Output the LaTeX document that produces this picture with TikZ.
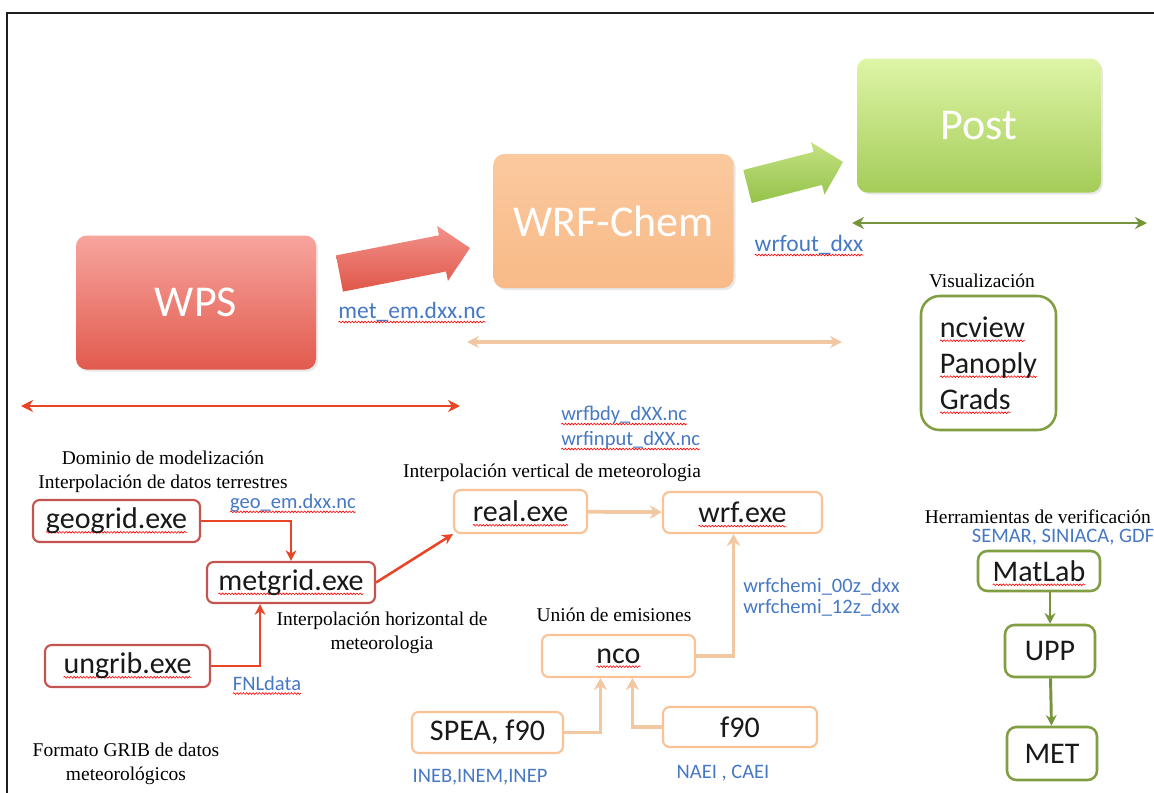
\documentclass[tikz,border=0pt]{standalone}
\usepackage{fontspec}
\setmainfont{Liberation Serif}
\newfontfamily\calibri{Carlito}
\usepackage{tikz}
\usetikzlibrary{arrows.meta,calc,shadows,decorations.pathmorphing}

\definecolor{framegray}{RGB}{30,30,30}
\definecolor{wpstop}{RGB}{247,165,157}
\definecolor{wpsbot}{RGB}{226,90,78}
\definecolor{chemtop}{RGB}{251,201,158}
\definecolor{chembot}{RGB}{248,186,136}
\definecolor{posttop}{RGB}{222,245,166}
\definecolor{postbot}{RGB}{164,204,88}
\definecolor{arrredtop}{RGB}{242,146,138}
\definecolor{arrredbot}{RGB}{224,86,74}
\definecolor{arrgrtop}{RGB}{196,226,130}
\definecolor{arrgrbot}{RGB}{148,194,74}
\definecolor{boxred}{RGB}{196,84,80}
\definecolor{boxor}{RGB}{249,195,150}
\definecolor{boxgr}{RGB}{128,158,66}
\definecolor{conred}{RGB}{234,67,38}
\definecolor{conor}{RGB}{242,200,162}
\definecolor{congr}{RGB}{118,148,58}
\definecolor{lblue}{RGB}{70,120,196}

% red wavy underline of the spell checker
\newsavebox\spellbox
\newlength\spellwd
\newcommand\spellchk[1]{\sbox\spellbox{#1}\setlength\spellwd{\wd\spellbox}%
  \leavevmode\rlap{\tikz[overlay,reset cm]\draw[spellline] (0pt,-2.6pt) -- (\spellwd,-2.6pt);}%
  \usebox\spellbox}

\tikzset{
  spellline/.style={draw=red, line width=0.45pt, sharp corners, solid, decorate,
    decoration={snake, amplitude=0.65pt, segment length=2.4pt}},
  bigbox/.style={rounded corners=8pt, minimum width=180pt, minimum height=100.5pt,
    text=white, font=\calibri\fontsize{33}{40}\selectfont,
    drop shadow={opacity=0.18, shadow xshift=1.5pt, shadow yshift=-1.5pt}},
  smallbox/.style={rounded corners=5pt, fill=white, line width=1.6pt, inner sep=0pt,
    text=black!90, font=\calibri\fontsize{22.5}{27}\selectfont},
  redbox/.style={smallbox, draw=boxred},
  orbox/.style={smallbox, draw=boxor},
  grbox/.style={smallbox, draw=boxgr, line width=1.9pt, rounded corners=7pt},
  bluelbl/.style={text=lblue, inner sep=0.75pt, font=\calibri\fontsize{15.4}{18.75}\selectfont},
  bluebig/.style={bluelbl, font=\calibri\fontsize{17.6}{20}\selectfont},
  serlbl/.style={inner sep=0.75pt, align=center, font=\fontsize{14.6}{18}\selectfont},
  redcon/.style={draw=conred, line width=1.9pt, -{Stealth[length=8pt,width=8pt]}},
  orcon/.style={draw=conor, line width=2.8pt, -{Stealth[length=9pt,width=10pt]}},
  grcon/.style={draw=congr, line width=2.2pt, -{Stealth[length=8pt,width=8pt]}},
  spanline/.style={line width=#1, {Stealth[length=9pt,width=9pt]}-{Stealth[length=9pt,width=9pt]}},
}

\begin{document}
\begin{tikzpicture}[x=0.75pt,y=0.75pt,yscale=-1,xscale=1]
\useasboundingbox (0,0) rectangle (1154,793);
% Frame
\draw [line width=1.5pt, color=framegray] (7,793) -- (7,13) -- (1154,13);

% Main stages
\node (wps) [bigbox, top color=wpstop, bottom color=wpsbot] at (196,302.5) {WPS};
\node (wrfchem) [bigbox, top color=chemtop, bottom color=chembot] at (613.5,221) {WRF-Chem};
\node (post) [bigbox, minimum width=183pt, top color=posttop, bottom color=postbot] at (979,125.5) {Post};

% Block arrows
\shade [top color=arrredtop, bottom color=arrredbot] (336,255.4) -- (439,235.3) -- (437.1,225.9) -- (470,248) -- (447.9,280.9) -- (446,271.5) -- (343,291.6) -- cycle;
\shade [top color=arrgrtop, bottom color=arrgrbot] (743.3,170) -- (813.6,151.9) -- (811.1,142.2) -- (843,162) -- (824.5,194.6) -- (822,184.9) -- (751.7,203) -- cycle;

% Text Node
\node (metem) [bluebig] at (412,312) {\spellchk{met\_em.dxx.nc}};
% Text Node
\node (wrfout) [bluebig] at (809,245) {\spellchk{wrfout\_dxx}};

% Spans
\coordinate (wpsL) at (21,406);
\coordinate (wpsR) at (460,406);
\draw [spanline=1.9pt, color=conred] (wpsL) -- (wpsR);
\coordinate (chemL) at (467,342);
\coordinate (chemR) at (842,342);
\draw [spanline=2.6pt, color=conor] (chemL) -- (chemR);
\coordinate (postL) at (852,223);
\coordinate (postR) at (1147,223);
\draw [spanline=2.2pt, color=congr] (postL) -- (postR);

% WPS part
\node (dominio) [serlbl] at (163,472) {Dominio de modelización\\Interpolación de datos terrestres};
\node (geogrid) [redbox, minimum width=125.25pt, minimum height=31.5pt] at (116.5,521) {\spellchk{geogrid.exe}};
\node (geoem) [bluelbl] at (293,503) {\spellchk{geo\_em.dxx.nc}};
\node (metgrid) [redbox, minimum width=126pt, minimum height=30.75pt] at (291,582.5) {\spellchk{metgrid.exe}};
\node (ungrib) [redbox, minimum width=123.75pt, minimum height=31.5pt] at (127.5,666) {\spellchk{ungrib.exe}};
\node (fnl) [bluelbl] at (267,683) {\spellchk{FNLdata}};
\node (horiz) [serlbl] at (382,632.5) {Interpolación horizontal de\\meteorologia};
\node (grib) [serlbl] at (126,763.5) {Formato GRIB de datos\\meteorológicos};
% Connection
\draw [redcon] (geogrid.east) -| (metgrid.north);
\draw [redcon] (ungrib.east) -| ($(metgrid.south)+(-31,0)$);

% WRF-Chem part
\node (bdy) [bluelbl, align=left, anchor=west] at (560,427.5) {\spellchk{wrfbdy\_dXX.nc}\\\spellchk{wrfinput\_dXX.nc}};
\node (vert) [serlbl] at (552,473) {Interpolación vertical de meteorologia};
\node (real) [orbox, minimum width=99.75pt, minimum height=32.25pt] at (520.5,511.5) {\spellchk{real.exe}};
\node (wrf) [orbox, minimum width=119.25pt, minimum height=30.75pt] at (742.5,512.5) {\spellchk{wrf.exe}};
\node (chemi) [bluelbl, align=left, anchor=west, font=\calibri\fontsize{15.4}{15.75}\selectfont] at (742,597.5) {wrfchemi\_00z\_dxx\\wrfchemi\_12z\_dxx};
\node (union) [serlbl] at (614,615) {Unión de emisiones};
\node (nco) [orbox, minimum width=114.75pt, minimum height=31.5pt] at (618.5,656) {\spellchk{nco}};
\node (spea) [orbox, minimum width=113.25pt, minimum height=30.75pt] at (487.5,732.5) {SPEA, f90};
\node (f90) [orbox, minimum width=115.5pt, minimum height=30pt] at (740,727) {f90};
\node (ineb) [bluelbl] at (480,777) {INEB,INEM,INEP};
\node (naei) [bluelbl] at (723,773) {NAEI , CAEI};
% Connection
\draw [redcon] (metgrid.east) -- (real.south west);
\draw [orcon] (real) -- (wrf);
\draw [orcon] (nco.east) -| ($(wrf.south)+(-9,0)$);
\draw [orcon] (spea.east) -| ($(nco.south)+(-18,0)$);
\draw [orcon] (f90.west) -| ($(nco.south)+(14,0)$);

% Post part
\node (vislbl) [serlbl] at (982,281) {Visualización};
\node (vis) [grbox, rounded corners=14pt, minimum width=101.25pt, minimum height=100.5pt, align=left, font=\calibri\fontsize{22.5}{27}\selectfont] at (988.5,363) {\spellchk{ncview}\\\spellchk{Panoply}\\\spellchk{Grads}};
\node (herr) [serlbl, anchor=east] at (1152,517) {Herramientas de verificación};
\node (semar) [bluelbl] at (1063,537) {SEMAR, SINIACA, GDF};
\node (matlab) [grbox, minimum width=91.5pt, minimum height=30pt] at (1039,571) {\spellchk{MatLab}};
\node (upp) [grbox, minimum width=67.5pt, minimum height=39pt] at (1050,651) {UPP};
\node (met) [grbox, minimum width=67.5pt, minimum height=39.75pt] at (1052,753.5) {MET};
% Connection
\draw [grcon] (upp.north |- matlab.south) -- (upp.north);
\draw [grcon] (upp) -- (met);
\end{tikzpicture}
\end{document}
